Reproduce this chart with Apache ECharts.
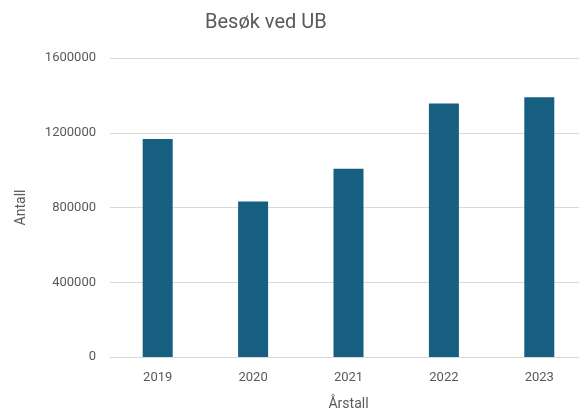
<!DOCTYPE html>
<html>
<head>
<meta charset="utf-8">
<script src="https://cdn.jsdelivr.net/npm/echarts@6/dist/echarts.min.js"></script>
<style>
  html, body { margin: 0; padding: 0; background: #fff; }
  #chart { width: 579px; height: 412px; }
</style>
</head>
<body>
<div id="chart"></div>
<script>
const years = ['2019', '2020', '2021', '2022', '2023']
const visits = [1166000, 832000, 1008000, 1356000, 1390000]

const chart = echarts.init(document.getElementById('chart'))
const font = 'Roboto, "Open Sans", sans-serif'
const option = {
  animation: false,
  title: {
    text: 'Besøk ved UB',
    left: 200,
    top: 8,
    textStyle: { fontFamily: font, fontSize: 20, fontWeight: 'normal', color: '#595959' }
  },
  grid: { left: 110, right: -8, top: 58, bottom: 55, containLabel: false, outerBoundsMode: 'none' },
  xAxis: {
    type: 'category',
    data: years,
    name: 'Årstall',
    nameLocation: 'middle',
    nameGap: 40,
    nameTextStyle: { fontFamily: font, fontSize: 14, color: '#595959' },
    axisLine: { lineStyle: { color: '#d9d9d9', width: 1 } },
    axisTick: { show: false },
    axisLabel: { fontFamily: font, fontSize: 13, color: '#595959', margin: 14 }
  },
  yAxis: {
    type: 'value',
    min: 0,
    max: 1600000,
    interval: 400000,
    name: 'Antall',
    nameLocation: 'middle',
    nameGap: 82,
    nameTextStyle: { fontFamily: font, fontSize: 14, color: '#595959' },
    axisLine: { show: false },
    axisTick: { show: false },
    axisLabel: {
      fontFamily: font, fontSize: 13, color: '#595959', margin: 14,
      formatter: v => String(v)
    },
    splitLine: { lineStyle: { color: '#d9d9d9', width: 1 } }
  },
  series: [
    {
      type: 'bar',
      data: visits,
      barWidth: 30,
      itemStyle: { color: '#165f81' }
    }
  ]
}
chart.setOption(option)
</script>
</body>
</html>
